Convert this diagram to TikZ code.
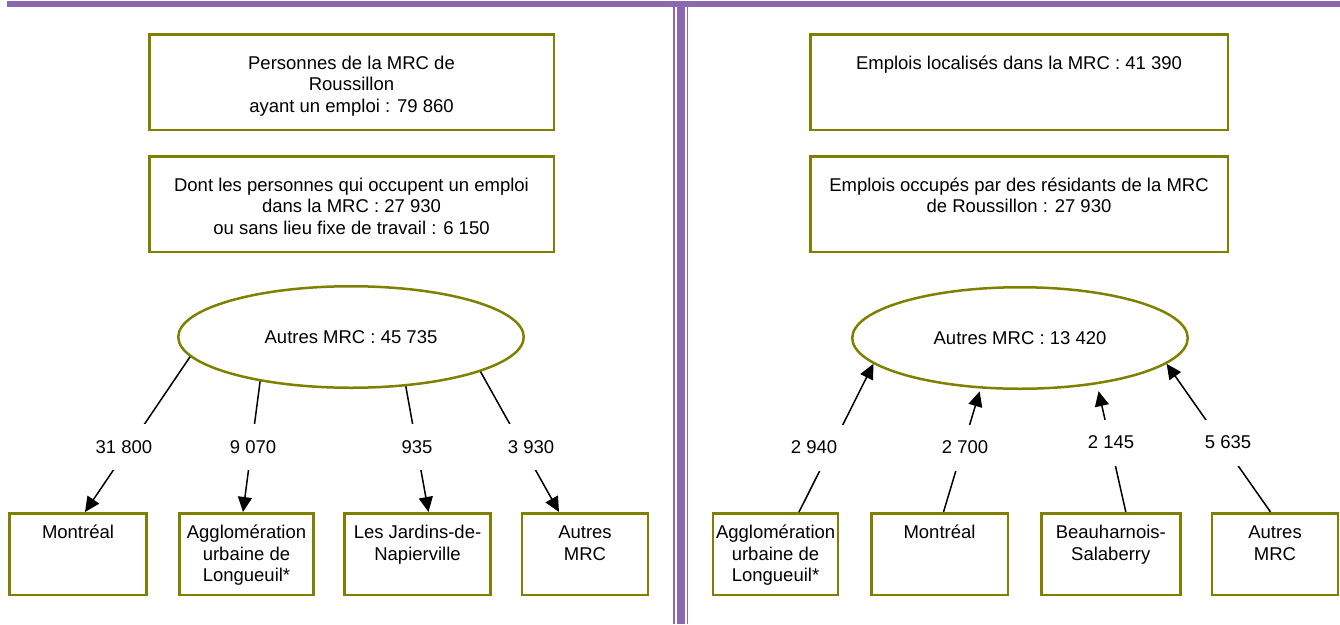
\documentclass[tikz,border=0pt]{standalone}
\usepackage{fontspec}
\setmainfont{Liberation Sans}
\usetikzlibrary{arrows.meta,shapes.geometric}
\definecolor{cadre}{RGB}{128,128,0}
\definecolor{bande}{RGB}{140,104,178}
\begin{document}
\begin{tikzpicture}[x=1pt,y=-1pt,
    every node/.style={font=\fontsize{18.5}{21.5}\selectfont},
    trait/.style={draw=cadre, line width=2.5pt, inner sep=0pt},
    haut/.style={trait, minimum width=#1, minimum height=95.5pt,
      execute at begin node={\begin{minipage}[c][56pt][t]{400pt}\centering\strut},
      execute at end node={\end{minipage}}},
    bas/.style={trait, minimum width=#1, minimum height=81.5pt,
      execute at begin node={\begin{minipage}[c][61pt][t]{\dimexpr#1-6pt\relax}\centering\strut},
      execute at end node={\end{minipage}}},
    bulle/.style={trait, ellipse, minimum height=101.5pt},
    fl/.style={line width=1.5pt, -{Triangle[length=15pt,width=14pt]}},
    num/.style={fill=white, minimum height=46pt, inner xsep=12pt}]
  \useasboundingbox (0,0) rectangle (1340,624);

  \fill[bande](7,1) rectangle (1340,6.7);
  \fill[bande](673.3,6.7) rectangle (674.7,624);
  \fill[bande](676.7,6.7) rectangle (684.7,624);
  \fill[bande](686.7,6.7) rectangle (688.3,624);

  \node[haut=404.5pt](persL) at (351.5,82) {Personnes de la MRC de\\Roussillon\\ayant un emploi : 79 860};
  \node[haut=404.5pt](dontL) at (351.5,204) {Dont les personnes qui occupent un emploi\\dans la MRC : 27 930\\ou sans lieu fixe de travail : 6 150};
  \node[bulle, minimum width=345.5pt](autresL) at (351,337) {Autres MRC : 45 735};

  \node[bas=137pt](mtlL) at (78,554) {Montréal};
  \node[bas=134pt](aggL) at (246.5,554) {Agglomération\\urbaine de\\Longueuil*};
  \node[bas=146pt](jarL) at (417.5,554) {Les Jardins-de-\\Napierville};
  \node[bas=126pt](autL) at (585,554) {Autres\\MRC};

  \draw[fl](autresL.187) -- ([xshift=7pt]mtlL.north);
  \draw[fl](autresL.206) -- ([xshift=-3.5pt]aggL.north);
  \draw[fl](autresL.318) -- ([xshift=11pt]jarL.north);
  \draw[fl](autresL.345) -- ([xshift=-26pt]autL.north);

  \node[num](nMtlL) at (124,447) {31 800};
  \node[num](nAggL) at (253,447) {9 070};
  \node[num](nJarL) at (417,447) {935};
  \node[num](nAutL) at (531,447) {3 930};

  \node[haut=417.5pt](emplR) at (1019,82) {Emplois localisés dans la MRC : 41 390};
  \node[haut=417.5pt](occR) at (1019,204) {Emplois occupés par des résidants de la MRC\\de Roussillon : 27 930};
  \node[bulle, minimum width=335.5pt](autresR) at (1020,338) {Autres MRC : 13 420};

  \node[bas=125pt](aggR) at (775.5,554) {Agglomération\\urbaine de\\Longueuil*};
  \node[bas=136.5pt](mtlR) at (939.5,554) {Montréal};
  \node[bas=139pt](beaR) at (1110.8,554) {Beauharnois-\\Salaberry};
  \node[bas=126pt](autR) at (1275,554) {Autres\\MRC};

  \draw[fl]([xshift=23.5pt]aggR.north) -- (autresR.190);
  \draw[fl, shorten >=3pt]([xshift=4pt]mtlR.north) -- (autresR.232);
  \draw[fl, shorten >=7pt]([xshift=15pt]beaR.north) -- (autresR.329);
  \draw[fl]([xshift=-4.5pt]autR.north) -- (autresR.350);

  \node[num](nAggR) at (814,447.5) {2 940};
  \node[num](nMtlR) at (965,447.5) {2 700};
  \node[num](nBeaR) at (1111,442.5) {2 145};
  \node[num](nAutR) at (1228,442.5) {5 635};
\end{tikzpicture}
\end{document}
